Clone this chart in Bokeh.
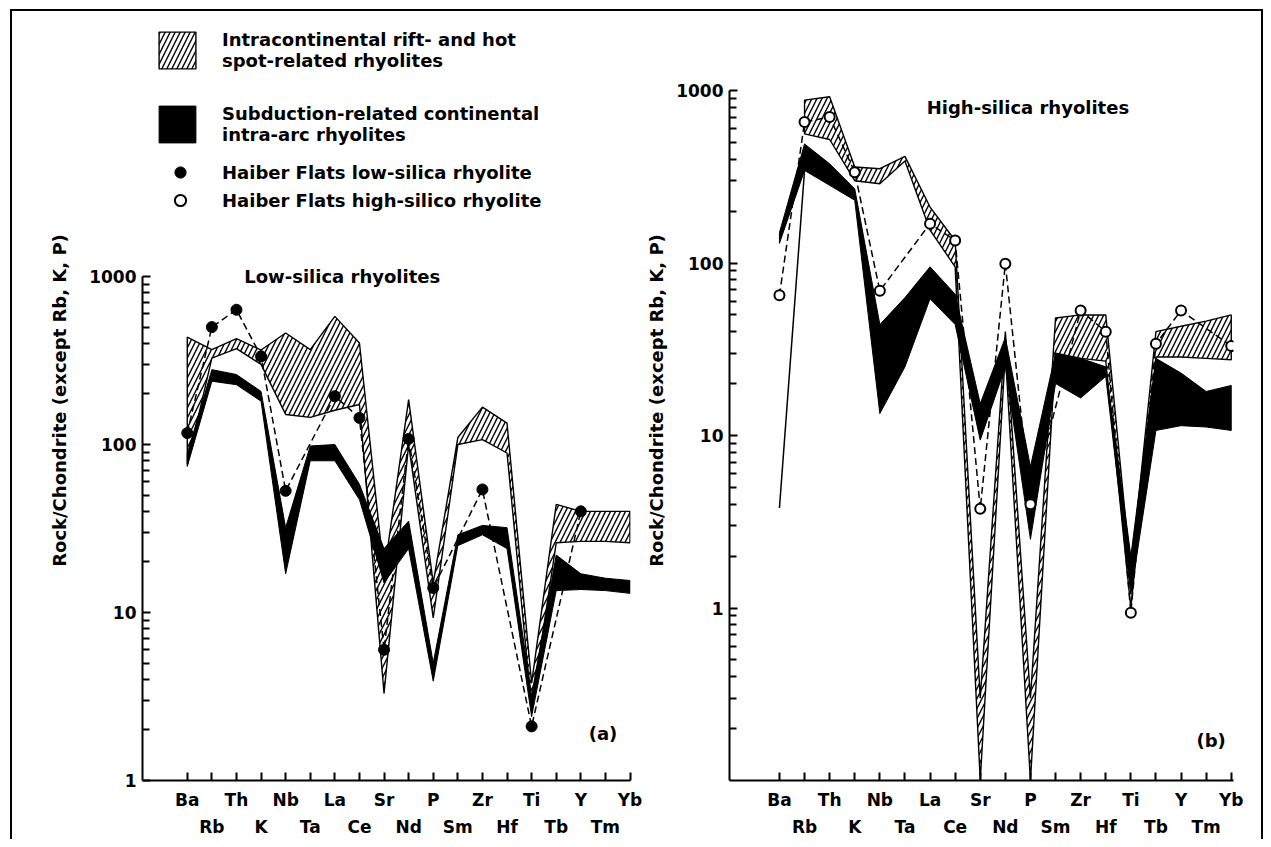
import numpy as np
from bokeh.plotting import figure
from bokeh.models import (Range1d, FixedTicker, LinearAxis, Legend, LegendItem,
                          Label, CustomJSTickFormatter)
from bokeh.layouts import row
from bokeh.embed import file_html
from bokeh.resources import INLINE

nan = float("nan")

# ---------------- data ----------------
elements = ["Ba", "Rb", "Th", "K", "Nb", "Ta", "La", "Ce", "Sr", "Nd",
            "P", "Sm", "Zr", "Hf", "Ti", "Tb", "Y", "Tm", "Yb"]

# panel (a) low-silica rhyolites
a_rift_hi = [435, 367, 427, 365, 461, 367, 579, 402, 17, 185, 15, 110, 167, 134, 3.8, 44, 40, 40, 40]
a_rift_lo = [76, 327, 372, 300, 151, 145, 160, 173, 3.3, 100, 9.3, 100, 107, 89, 2.7, 26, 26.5, 26.5, 26]
a_arc_hi = [88, 279, 261, 207, 32, 98, 100, 58, 24, 35, 5.0, 29, 33, 32, 3.2, 22, 17, 16, 15.5]
a_arc_lo = [74, 238, 227, 181, 17, 80, 80, 47, 15, 24, 3.9, 25, 29, 24, 2.4, 13.5, 13.7, 13.5, 13]
a_haiber_low = [117, 500, 634, 335, 53, nan, 194, 144, 6.0, 108, 14, nan, 54, nan, 2.1, nan, 40, nan, nan]

# panel (b) high-silica rhyolites
b_rift_hi = [nan, 880, 920, 360, 352, 415, 211, 135, 0.3, 40, 0.3, 48, 50, 50, 1.6, 40, 43, 46, 50]
b_rift_lo = [nan, 560, 520, 300, 288, 390, 155, 95, 0.1, 30, 0.1, 30, 28, 27, 1.0, 28.5, 28.5, 28, 27.5]
b_arc_hi = [150, 490, 376, 269, 44, 63, 95, 66, 15.3, 37, 6.6, 30, 28, 25, 2.0, 28, 23, 18, 19.5]
b_arc_lo = [130, 344, 282, 231, 13.4, 25, 62, 44, 9.4, 25, 2.5, 20, 16.5, 22, 1.2, 10.7, 11.4, 11.2, 10.7]
b_arc_edge = [3.8, 344]          # thin lower edge Ba -> Rb
b_haiber_high = [65, 656, 702, 336, 69, nan, 169, 135, 3.76, 99, 4.0, nan, 53, 40, 0.94, 34, 53, nan, 33]

top_labels = [e if i % 2 == 0 else "" for i, e in enumerate(elements)]
bottom_labels = [e if i % 2 == 1 else "" for i, e in enumerate(elements)]

FONT = "DejaVu Sans"
INK = "black"


def band_poly(hi, lo):
    idx = [i for i in range(len(hi)) if not np.isnan(hi[i])]
    xs = idx + idx[::-1]
    ys = [hi[i] for i in idx] + [lo[i] for i in idx[::-1]]
    return xs, ys


def valid(vals):
    idx = [i for i in range(len(vals)) if not np.isnan(vals[i])]
    return idx, [vals[i] for i in idx]


def make_fig(xr, yr, bounds, fw, fh, bl, br, bt, bb, majors, minors, ylab_off):
    p = figure(frame_width=fw, frame_height=fh,
               min_border_left=bl, min_border_right=br,
               min_border_top=bt, min_border_bottom=bb,
               x_range=Range1d(*xr), y_range=Range1d(*yr),
               y_axis_type="log", output_backend="svg", toolbar_location=None)
    p.grid.visible = False
    p.outline_line_color = None
    p.background_fill_color = "white"
    p.border_fill_color = "white"

    xa = p.xaxis[0]
    xa.ticker = FixedTicker(ticks=list(range(len(elements))))
    xa.formatter = CustomJSTickFormatter(args=dict(labels=top_labels),
                                         code="return labels[Math.round(tick)] || '';")
    xa.axis_line_width = 2
    xa.axis_line_color = INK
    xa.major_tick_line_width = 2
    xa.major_tick_line_color = INK
    xa.major_tick_in = 8
    xa.major_tick_out = 0
    xa.minor_tick_line_color = None
    xa.major_label_standoff = 9
    xa.major_label_text_font = FONT
    xa.major_label_text_font_style = "bold"
    xa.major_label_text_font_size = "17px"
    xa.major_label_text_color = INK

    xb = LinearAxis(ticker=FixedTicker(ticks=list(range(len(elements)))),
                    formatter=CustomJSTickFormatter(args=dict(labels=bottom_labels),
                                                    code="return labels[Math.round(tick)] || '';"))
    xb.axis_line_color = None
    xb.major_tick_line_color = None
    xb.minor_tick_line_color = None
    xb.major_tick_in = 0
    xb.major_tick_out = 0
    xb.major_label_standoff = 4
    xb.major_label_text_font = FONT
    xb.major_label_text_font_style = "bold"
    xb.major_label_text_font_size = "17px"
    xb.major_label_text_color = INK
    p.add_layout(xb, "below")

    ya = p.yaxis[0]
    ya.bounds = bounds
    ya.ticker = FixedTicker(ticks=majors, minor_ticks=minors)
    ya.formatter = CustomJSTickFormatter(code="return String(Math.round(tick));")
    ya.axis_line_width = 2
    ya.axis_line_color = INK
    ya.major_tick_line_width = 2
    ya.minor_tick_line_width = 2
    ya.major_tick_line_color = INK
    ya.minor_tick_line_color = INK
    ya.major_tick_in = 8
    ya.major_tick_out = 0
    ya.minor_tick_in = 7
    ya.minor_tick_out = 0
    ya.major_label_standoff = 6
    ya.major_label_text_font = FONT
    ya.major_label_text_font_style = "bold"
    ya.major_label_text_font_size = "17px"
    ya.major_label_text_color = INK
    ya.axis_label = "Rock/Chondrite (except Rb, K, P)"
    ya.axis_label_text_font = FONT
    ya.axis_label_text_font_style = "bold"
    ya.axis_label_text_font_size = "18px"
    ya.axis_label_text_color = INK
    ya.axis_label_standoff = ylab_off
    return p


def draw_bands(p, rift_hi, rift_lo, arc_hi, arc_lo):
    xs, ys = band_poly(rift_hi, rift_lo)
    r1 = p.patch(xs, ys, fill_color="white", line_color=INK, line_width=1.4,
                 hatch_pattern="/", hatch_color=INK, hatch_weight=1.4, hatch_scale=10)
    xs, ys = band_poly(arc_hi, arc_lo)
    r2 = p.patch(xs, ys, fill_color=INK, line_color=INK, line_width=1)
    return r1, r2


def text_label(p, x, y, text):
    p.add_layout(Label(x=x, y=y, text=text, text_align="center", text_baseline="middle",
                       text_font=FONT, text_font_style="bold", text_font_size="18px",
                       text_color=INK))


minors_a = [m * d for d in (1, 10, 100) for m in range(2, 10)]
minors_b = [m * d for d in (0.1, 1, 10, 100) for m in range(2, 10)]

# frames share their top edge (row layouts align frames); the y axes are bounded
FRAME_H = 760
# ---------------- panel (a) ----------------
pa = make_fig((-1.82, 18.02), (1, 10 ** (FRAME_H / 168.0)), (1, 1000),
              488, FRAME_H, 130, 12, 9, 58, [1, 10, 100, 1000], minors_a, 16)
ra_rift, ra_arc = draw_bands(pa, a_rift_hi, a_rift_lo, a_arc_hi, a_arc_lo)
ix, iv = valid(a_haiber_low)
pa.line(ix, iv, line_color=INK, line_width=1.5, line_dash="7 4")
ra_low = pa.scatter(ix, iv, marker="circle", size=11, fill_color=INK, line_color=INK)
# legend-only renderer for the open-circle series of panel (b)
ra_high_key = pa.scatter(x=[nan], y=[nan], marker="circle", size=10, fill_color="white",
                         line_color=INK, line_width=2)

text_label(pa, 6.3, 1000, "Low-silica rhyolites")
text_label(pa, 16.9, 1.9, "(a)")

leg1 = Legend(items=[
    LegendItem(label="Intracontinental rift- and hot\nspot-related rhyolites", renderers=[ra_rift]),
    LegendItem(label="Subduction-related continental\nintra-arc rhyolites", renderers=[ra_arc]),
], location=(12, 633))
leg2 = Legend(items=[
    LegendItem(label="Haiber Flats low-silica rhyolite", renderers=[ra_low]),
    LegendItem(label="Haiber Flats high-silico rhyolite", renderers=[ra_high_key]),
], location=(18, 566))
for lg, gw, gh, sp, so in ((leg1, 46, 46, 28, 22), (leg2, 40, 28, -3, 22)):
    lg.glyph_width = gw
    lg.glyph_height = gh
    lg.spacing = sp
    lg.padding = 0
    lg.margin = 0
    lg.label_standoff = so
    lg.border_line_color = None
    lg.background_fill_alpha = 0
    lg.label_text_font = FONT
    lg.label_text_font_style = "bold"
    lg.label_text_font_size = "18px"
    lg.label_text_color = INK
    lg.label_text_baseline = "middle"
    pa.add_layout(lg)

# ---------------- panel (b) ----------------
pb = make_fig((-1.99, 18.09), (0.1, 10 ** (FRAME_H / 172.5 - 1)), (0.1, 1000),
              504, FRAME_H, 87, 28, 9, 58, [1, 10, 100, 1000], minors_b, 6)
draw_bands(pb, b_rift_hi, b_rift_lo, b_arc_hi, b_arc_lo)
pb.line([0, 1], b_arc_edge, line_color=INK, line_width=1.5)
ix, iv = valid(b_haiber_high)
pb.line(ix, iv, line_color=INK, line_width=1.5, line_dash="7 4")
pb.scatter(ix, iv, marker="circle", size=10, fill_color="white", line_color=INK, line_width=2)

text_label(pb, 9.9, 800, "High-silica rhyolites")
text_label(pb, 17.2, 0.17, "(b)")

layout = row(pa, pb, margin=(9, 0, 0, 10),
             styles={"border-top": "2px solid black",
                     "border-left": "2px solid black",
                     "border-right": "2px solid black"})

open("out.html", "w").write(file_html(layout, INLINE, "Rock/Chondrite spider diagrams"))
